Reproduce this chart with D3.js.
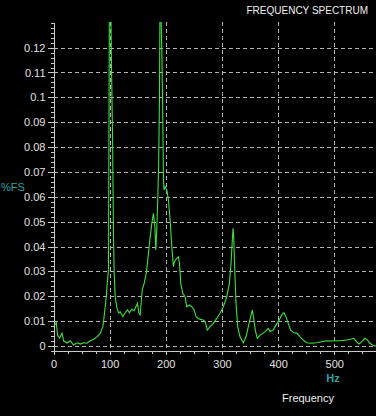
<!DOCTYPE html>
<html>
<head>
<meta charset="utf-8">
<script src="https://cdn.jsdelivr.net/npm/d3@7"></script>
<style>
  html, body { margin: 0; padding: 0; background: #000; }
  svg { display: block; font-family: "Liberation Sans", Arial, sans-serif; }
</style>
</head>
<body>
<div id="chart"></div>
<script>
// spectrum (Hz, %FS)
const freqs = [0, 5, 7.3, 10.8, 15.1, 18, 24, 29.9, 35.7, 41.8, 47.7, 53.5, 59.6, 65.4, 71.3, 77.4,
  83.2, 88, 90.9, 93.9, 96.2, 98, 99.8, 101.9, 103.3, 105.1, 106.9, 108.1, 109.9, 112.9, 115.8,
  118.8, 123.6, 127.7, 131.8, 135.3, 139.6, 143.7, 147.3, 149.6, 152.1, 154.4, 157.9, 161.5,
  165.6, 169.1, 172.2, 175.2, 178, 180.5, 182.3, 184.1, 185.8, 187.3, 188.7, 190, 191.4, 193,
  194.7, 195.8, 197, 198.8, 201.8, 204.7, 207.7, 210.7, 213.6, 215.4, 219.6, 222.5, 224.3,
  226.7, 230.3, 234.4, 237.4, 242, 246.3, 250.4, 254, 258.1, 261.1, 266.9, 270, 274.1, 278.9,
  284.7, 290.8, 296.6, 302.5, 308.6, 313.2, 316.2, 318.5, 319.8, 321, 322.8, 325.1, 328.1,
  332.2, 338.1, 342.9, 347, 351.2, 354.1, 356.6, 359.4, 363, 367.8, 372.6, 377.2, 382.5, 385.6,
  391.4, 396.2, 402.1, 406.4, 410.5, 414, 418.1, 422.4, 428.2, 434.1, 438.9, 444.8, 450.8,
  459.7, 468.6, 477.5, 486.4, 495.3, 504.2, 513.1, 522, 530.9, 535, 539.8, 544.4, 548.6,
  554.5, 559.3, 563.4, 568.2, 572.8, 577.6];
const levels = [0.0078, 0.0094, 0.0044, 0.0032, 0.0052, 0.0021, 0.0012, 0.0021, 0.0004, 0.0013,
  0.0008, 0.0013, 0.0011, 0.0021, 0.0027, 0.0037, 0.0051, 0.0078, 0.0133, 0.0198, 0.0265, 0.0306,
  0.16, 0.14, 0.1124, 0.0857, 0.0438, 0.0294, 0.0198, 0.0153, 0.0133, 0.0138, 0.0118, 0.0134,
  0.0145, 0.0134, 0.0148, 0.0142, 0.0161, 0.0172, 0.0133, 0.0125, 0.0225, 0.0252, 0.0298,
  0.0373, 0.044, 0.0494, 0.0534, 0.048, 0.0386, 0.048, 0.0601, 0.0728, 0.099, 0.15, 0.135,
  0.1177, 0.0909, 0.0668, 0.0628, 0.0641, 0.0628, 0.0587, 0.0507, 0.0399, 0.0319, 0.0339,
  0.0353, 0.0359, 0.0333, 0.0252, 0.0212, 0.0198, 0.0158, 0.0165, 0.0158, 0.0145, 0.0118,
  0.0111, 0.0107, 0.0105, 0.0098, 0.0064, 0.0078, 0.0091, 0.0111, 0.0132, 0.0158, 0.0198,
  0.0252, 0.0333, 0.0426, 0.0473, 0.044, 0.0306, 0.0172, 0.0078, 0.0037, 0.0013, 0.0037,
  0.0078, 0.0118, 0.0145, 0.0111, 0.0064, 0.0031, 0.0044, 0.0051, 0.0058, 0.0071, 0.0058,
  0.0064, 0.0084, 0.0105, 0.0125, 0.0134, 0.0118, 0.0091, 0.0064, 0.0053, 0.0051, 0.0037,
  0.0024, 0.0013, 0.0011, 0.0013, 0.0017, 0.0021, 0.002, 0.0021, 0.0021, 0.0024, 0.0028,
  0.0031, 0.0017, 0.0008, 0.0017, 0.0031, 0.0024, 0.0011, 0.0004, 0, 0];

// axis ticks
const xTicks = [0, 100, 200, 300, 400, 500];
const xMinor = d3.range(0, 575, 25);
const yTicks = d3.range(13).map(i => i / 100);
const yMinor = d3.range(-1, 66).map(i => i / 500);

const width = 376, height = 416;
const plot = { left: 53.5, right: 376, top: 22, bottom: 351 };

const svg = d3.select('#chart')
  .append('svg')
    .attr('width', width)
    .attr('height', height)
    .style('background', '#000');

const x = d3.scaleLinear().domain([0, 574.4]).range([plot.left, plot.right]);
const y = d3.scaleLinear().domain([-0.002, 0.1303]).range([plot.bottom, plot.top]);

// grid
const grid = svg.append('g')
    .attr('stroke', '#b4b4b4')
    .attr('stroke-width', 1)
    .attr('stroke-dasharray', '4,3')
    .attr('shape-rendering', 'crispEdges');

grid.selectAll('.hg')
  .data(yTicks)
  .enter()
  .append('line')
    .attr('x1', plot.left).attr('x2', plot.right)
    .attr('y1', d => Math.round(y(d)) + 0.5)
    .attr('y2', d => Math.round(y(d)) + 0.5);

grid.selectAll('.vg')
  .data(xTicks.filter(d => d > 0))
  .enter()
  .append('line')
    .attr('y1', plot.top).attr('y2', plot.bottom)
    .attr('x1', d => Math.round(x(d)) + 0.5)
    .attr('x2', d => Math.round(x(d)) + 0.5);

// axes
const styleAxis = g => {
  g.select('.domain').attr('stroke', '#c8c8c8');
  g.selectAll('.tick line').attr('stroke', '#c8c8c8');
  g.selectAll('.tick text')
    .attr('fill', '#e0e0e0')
    .style('font-size', '11px');
  g.attr('shape-rendering', 'crispEdges');
};

svg.append('g')
    .attr('transform', `translate(${plot.left},0)`)
    .call(d3.axisLeft(y).tickValues(yMinor).tickSize(3).tickFormat('').tickSizeOuter(0))
    .call(styleAxis);

svg.append('g')
    .attr('transform', `translate(${plot.left},0)`)
    .call(d3.axisLeft(y).tickValues(yTicks).tickSize(6).tickPadding(2)
      .tickFormat(d3.format('.2~f')).tickSizeOuter(0))
    .call(styleAxis);

svg.append('g')
    .attr('transform', `translate(0,${plot.bottom})`)
    .call(d3.axisBottom(x).tickValues(xMinor).tickSize(3).tickFormat('').tickSizeOuter(0))
    .call(styleAxis);

svg.append('g')
    .attr('transform', `translate(0,${plot.bottom})`)
    .call(d3.axisBottom(x).tickValues(xTicks).tickSize(4).tickPadding(5).tickSizeOuter(0))
    .call(styleAxis);

// spectrum line
svg.append('clipPath')
    .attr('id', 'clip')
  .append('rect')
    .attr('x', plot.left).attr('y', plot.top)
    .attr('width', plot.right - plot.left)
    .attr('height', plot.bottom - plot.top);

const line = d3.line()
  .x((d, i) => x(freqs[i]))
  .y(d => y(d));

svg.append('path')
    .datum(levels)
    .attr('clip-path', 'url(#clip)')
    .attr('d', line)
    .attr('fill', 'none')
    .attr('stroke', '#3fe03f')
    .attr('stroke-width', 1.1);

// labels
svg.append('text')
    .attr('x', 368).attr('y', 13.5)
    .attr('text-anchor', 'end')
    .attr('fill', '#f2f2f2')
    .style('font-size', '10px')
    .text('FREQUENCY SPECTRUM');

svg.append('text')
    .attr('x', 1).attr('y', 191)
    .attr('fill', '#2fa3a3')
    .style('font-size', '11px')
    .text('%FS');

svg.append('text')
    .attr('x', 333).attr('y', 382)
    .attr('text-anchor', 'middle')
    .attr('fill', '#2fa3a3')
    .style('font-size', '11px')
    .style('font-weight', 'bold')
    .text('Hz');

svg.append('text')
    .attr('x', 308).attr('y', 401.5)
    .attr('text-anchor', 'middle')
    .attr('fill', '#eeeeee')
    .style('font-size', '11px')
    .text('Frequency');
</script>
</body>
</html>
